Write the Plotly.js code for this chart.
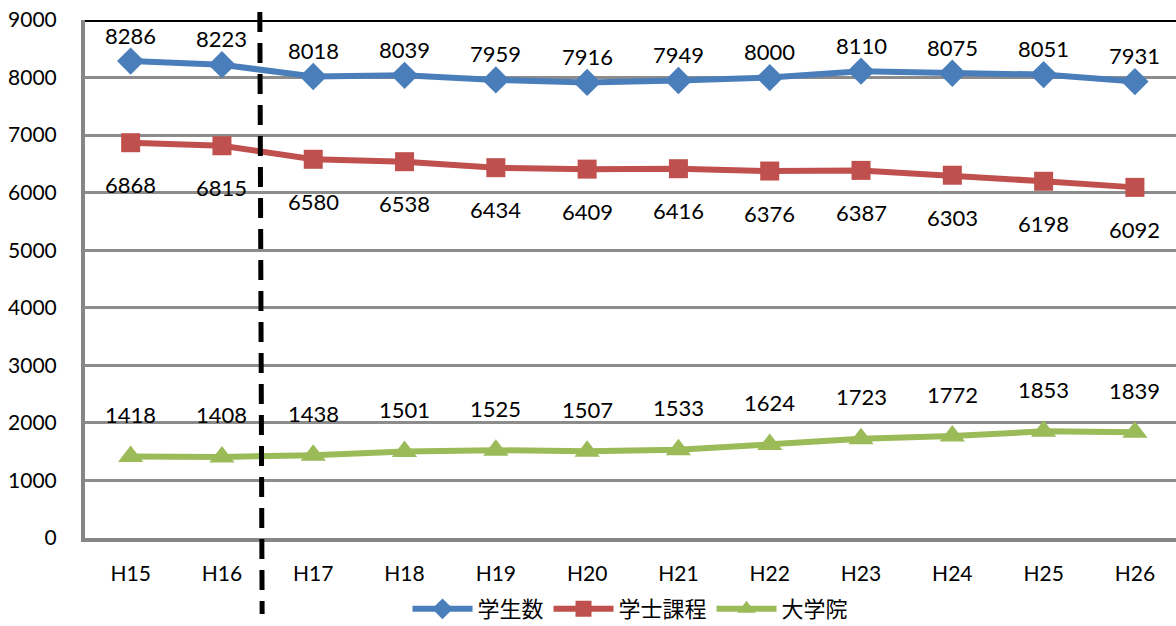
<!DOCTYPE html>
<html><head><meta charset="utf-8">
<script src="https://cdn.plot.ly/plotly-3.0.1.min.js"></script>
<style>html,body{margin:0;padding:0;overflow:hidden;background:#fff;width:1176px;height:626px}#c{width:1176px;height:650px}</style>
</head><body><div id="c"></div>
<script>
const categories = ['H15','H16','H17','H18','H19','H20','H21','H22','H23','H24','H25','H26'];
const students = [8286,8223,8018,8039,7959,7916,7949,8000,8110,8075,8051,7931];
const undergrad = [6868,6815,6580,6538,6434,6409,6416,6376,6387,6303,6198,6092];
const graduate = [1418,1408,1438,1501,1525,1507,1533,1624,1723,1772,1853,1839];
const seriesNames = ['学生数','学士課程','大学院'];
const yTicks = [0,1000,2000,3000,4000,5000,6000,7000,8000,9000];

const numFont = 'Lato, "Liberation Sans", sans-serif';
const cjkFont = '"Noto Sans CJK JP", sans-serif';
const colors = ['#4A7EBB','#C0504D','#9BBB59'];
const symbols = ['diamond','square','triangle-up'];
const sizes = [21,19,22];
const data = [students, undergrad, graduate].map((ys,i)=>({
  x: categories, y: ys, name: seriesNames[i], type:'scatter', mode:'lines+markers',
  line:{color:colors[i], width:6},
  marker:{symbol:symbols[i], size:sizes[i], color:colors[i]},
  cliponaxis:false
}));

const annotations = [];
const shifts = [26,-42,42];
[students, undergrad, graduate].forEach((ys,i)=>{
  ys.forEach((v,j)=>annotations.push({
    x: categories[j], y: v, text: String(v), showarrow:false,
    yshift: shifts[i], font:{family:numFont, size:22, color:'#000'}
  }));
});

// figure is 650 tall (bottom cropped by the 626 window); paper height = 630
const FH = 650, H = 630;
const py = px => (FH - px) / H;
const layout = {
  width:1176, height:FH,
  margin:{l:85, r:0, t:20, b:0},
  paper_bgcolor:'#fff', plot_bgcolor:'#fff',
  showlegend:true,
  legend:{orientation:'h', x:0.5, xanchor:'center', y:py(609), yanchor:'middle',
    font:{family:cjkFont, size:22, color:'#000'}, itemwidth:60, tracegroupgap:0},
  xaxis:{type:'category', range:[-0.5,11.45], showgrid:false, showline:true, linecolor:'#868686', linewidth:4,
    ticks:'', ticklabelstandoff:14, tickfont:{family:numFont, size:21, color:'#000'}, zeroline:false, fixedrange:true, automargin:false},
  yaxis:{domain:[py(538),1], range:[0,9000], tickvals:yTicks, showgrid:true, gridcolor:'#8c8c8c', gridwidth:3,
    showline:true, linecolor:'#868686', linewidth:4, ticks:'', ticklabelstandoff:20,
    tickfont:{family:numFont, size:21, color:'#000'}, zeroline:false, fixedrange:true, automargin:false},
  shapes:[
    {type:'line', xref:'paper', yref:'y', x0:0, x1:1, y0:9000, y1:9000, line:{color:'#000', width:4}},
    {type:'line', xref:'x', yref:'paper', x0:1.415, x1:1.44, y0:py(12), y1:py(614), line:{color:'#000', width:5, dash:'20px,11px'}}
  ],
  annotations: annotations
};
Plotly.newPlot('c', data, layout, {displayModeBar:false, staticPlot:true});
</script></body></html>
